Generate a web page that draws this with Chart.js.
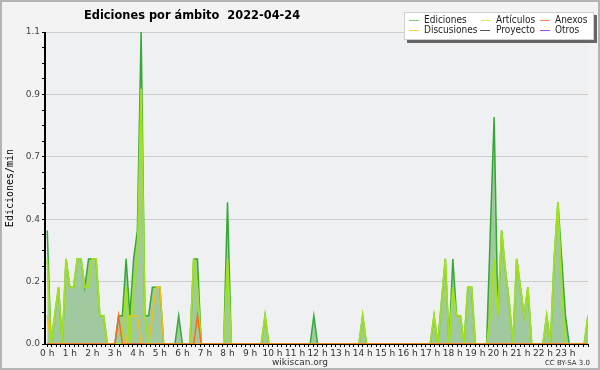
<!DOCTYPE html>
<html>
<head>
<meta charset="utf-8">
<script src="https://cdn.jsdelivr.net/npm/chart.js@4.4.1/dist/chart.umd.min.js"></script>
<style>
  html, body { margin: 0; padding: 0; background: #f3f3f3; }
  canvas { display: block; }
</style>
</head>
<body>
<canvas id="chart" width="600" height="370"></canvas>
<script>
const TITLE = 'Ediciones por ámbito  2022-04-24';
const Y_TITLE = 'Ediciones/min';
const FOOTER = 'wikiscan.org';
const LICENSE = 'CC BY-SA 3.0';

const hourLabels = ['0 h', '1 h', '2 h', '3 h', '4 h', '5 h', '6 h', '7 h', '8 h', '9 h', '10 h', '11 h',
  '12 h', '13 h', '14 h', '15 h', '16 h', '17 h', '18 h', '19 h', '20 h', '21 h', '22 h', '23 h'];
const yTicks = [0, 0.22, 0.44, 0.66, 0.88, 1.1];
const yTickLabels = ['0.0', '0.2', '0.4', '0.7', '0.9', '1.1'];

const binMinutes = 10; // one value every 10 minutes, 0:00 -> 24:00

// one row per hour (6 bins), last value = 24:00
const ediciones = [
  0.4, 0, 0.1, 0.2, 0, 0.3,
  0.2, 0.2, 0.3, 0.3, 0.2, 0.3,
  0.3, 0.3, 0.1, 0.1, 0, 0,
  0, 0.1, 0.1, 0.3, 0.1, 0.3,
  0.4, 1.1, 0.1, 0.1, 0.2, 0.2,
  0.2, 0, 0, 0, 0, 0.1,
  0, 0, 0, 0.3, 0.3, 0,
  0, 0, 0, 0, 0, 0,
  0.5, 0, 0, 0, 0, 0,
  0, 0, 0, 0, 0.1, 0,
  0, 0, 0, 0, 0, 0,
  0, 0, 0, 0, 0, 0.1,
  0, 0, 0, 0, 0, 0,
  0, 0, 0, 0, 0, 0,
  0.1, 0, 0, 0, 0, 0,
  0, 0, 0, 0, 0, 0,
  0, 0, 0, 0, 0, 0,
  0, 0.1, 0, 0.15, 0.3, 0,
  0.3, 0.1, 0.1, 0, 0.2, 0.2,
  0, 0, 0, 0, 0.4, 0.8,
  0.1, 0.4, 0.26, 0.15, 0, 0.3,
  0.2, 0.1, 0.2, 0, 0, 0,
  0, 0.1, 0, 0.3, 0.5, 0.3,
  0.1, 0, 0, 0, 0, 0,
  0.1
];
const articulos = [
  0.3, 0, 0.1, 0.2, 0, 0.3,
  0.2, 0.2, 0.3, 0.3, 0.2, 0.2,
  0.3, 0.3, 0.1, 0.1, 0, 0,
  0, 0, 0, 0.2, 0, 0.2,
  0.3, 0.9, 0.1, 0, 0, 0,
  0, 0, 0, 0, 0, 0,
  0, 0, 0, 0.3, 0.2, 0,
  0, 0, 0, 0, 0, 0,
  0.3, 0, 0, 0, 0, 0,
  0, 0, 0, 0, 0.1, 0,
  0, 0, 0, 0, 0, 0,
  0, 0, 0, 0, 0, 0,
  0, 0, 0, 0, 0, 0,
  0, 0, 0, 0, 0, 0,
  0.1, 0, 0, 0, 0, 0,
  0, 0, 0, 0, 0, 0,
  0, 0, 0, 0, 0, 0,
  0, 0.1, 0, 0.15, 0.3, 0,
  0.2, 0.1, 0.1, 0, 0.2, 0.2,
  0, 0, 0, 0, 0.1, 0.3,
  0.1, 0.4, 0.26, 0.15, 0, 0.3,
  0.2, 0.1, 0.2, 0, 0, 0,
  0, 0.1, 0, 0.3, 0.5, 0.2,
  0, 0, 0, 0, 0, 0,
  0.1
];
const anexos = [
  0, 0, 0, 0, 0, 0,
  0, 0, 0, 0, 0, 0,
  0, 0, 0, 0, 0, 0,
  0, 0.1, 0, 0, 0, 0,
  0, 0, 0, 0, 0, 0,
  0, 0, 0, 0, 0, 0,
  0, 0, 0, 0, 0.1, 0,
  0, 0, 0, 0, 0, 0,
  0, 0, 0, 0, 0, 0,
  0, 0, 0, 0, 0, 0,
  0, 0, 0, 0, 0, 0,
  0, 0, 0, 0, 0, 0,
  0, 0, 0, 0, 0, 0,
  0, 0, 0, 0, 0, 0,
  0, 0, 0, 0, 0, 0,
  0, 0, 0, 0, 0, 0,
  0, 0, 0, 0, 0, 0,
  0, 0, 0, 0, 0, 0,
  0, 0, 0, 0, 0, 0,
  0, 0, 0, 0, 0, 0,
  0, 0, 0, 0, 0, 0,
  0, 0, 0, 0, 0, 0,
  0, 0, 0, 0, 0, 0,
  0, 0, 0, 0, 0, 0,
  0
];
const discusiones = [
  0.1, 0, 0, 0, 0, 0,
  0, 0, 0, 0, 0, 0,
  0, 0, 0, 0, 0, 0,
  0, 0, 0, 0, 0.1, 0.1,
  0.1, 0, 0, 0, 0.1, 0.2,
  0.2, 0, 0, 0, 0, 0,
  0, 0, 0, 0, 0, 0,
  0, 0, 0, 0, 0, 0,
  0, 0, 0, 0, 0, 0,
  0, 0, 0, 0, 0, 0,
  0, 0, 0, 0, 0, 0,
  0, 0, 0, 0, 0, 0,
  0, 0, 0, 0, 0, 0,
  0, 0, 0, 0, 0, 0,
  0, 0, 0, 0, 0, 0,
  0, 0, 0, 0, 0, 0,
  0, 0, 0, 0, 0, 0,
  0, 0, 0, 0, 0, 0,
  0, 0, 0, 0, 0, 0,
  0, 0, 0, 0, 0, 0,
  0, 0, 0, 0, 0, 0,
  0, 0, 0, 0, 0, 0,
  0, 0, 0, 0, 0, 0,
  0, 0, 0, 0, 0, 0,
  0
];
const proyecto = ediciones.map(() => 0);
const otros = ediciones.map(() => 0);

const toPoints = arr => arr.map((v, i) => ({ x: i * binMinutes, y: v }));

const lineDs = (label, data, color, legendColor, order, width) => ({
  label, data: toPoints(data), borderColor: color, legendColor,
  borderWidth: width, pointRadius: 0, tension: 0, fill: false, order
});

// background, plot area, frame, title, legend
const backdrop = {
  id: 'backdrop',
  beforeDraw(chart) {
    const { ctx, chartArea: a } = chart;
    ctx.save();
    ctx.fillStyle = '#f3f3f3';
    ctx.fillRect(0, 0, chart.width, chart.height);
    ctx.fillStyle = '#eef0f2';
    ctx.fillRect(a.left, a.top, a.right - a.left, a.bottom - a.top);
    ctx.restore();
  },
  afterDatasetsDraw(chart) {
    const { ctx, chartArea: a } = chart;
    ctx.save();
    ctx.strokeStyle = '#000';
    ctx.lineWidth = 1;
    ctx.beginPath();
    ctx.moveTo(a.left - 0.5, a.top);
    ctx.lineTo(a.left - 0.5, a.bottom + 0.5);
    ctx.lineTo(a.right, a.bottom + 0.5);
    ctx.stroke();
    ctx.restore();
  },
  afterDraw(chart) {
    const { ctx } = chart;
    ctx.save();
    ctx.strokeStyle = '#b4b4b4';
    ctx.lineWidth = 2;
    ctx.strokeRect(1, 1, chart.width - 2, chart.height - 2);

    ctx.fillStyle = '#000';
    ctx.font = 'bold 11.4px "DejaVu Sans"';
    ctx.textBaseline = 'alphabetic';
    ctx.fillText(TITLE, 84, 19);

    ctx.fillStyle = '#333';
    ctx.font = '9px "DejaVu Sans"';
    ctx.textAlign = 'center';
    ctx.fillText(FOOTER, 300, 365);
    ctx.font = '7px "DejaVu Sans"';
    ctx.textAlign = 'right';
    ctx.fillText(LICENSE, 590, 365);

    ctx.fillStyle = '#666';
    ctx.fillRect(407, 15, 190, 28);
    ctx.fillStyle = '#fff';
    ctx.fillRect(404, 12, 190, 28);
    ctx.strokeStyle = '#d0d0d0';
    ctx.lineWidth = 1;
    ctx.strokeRect(404.5, 12.5, 189, 27);

    const slots = [[409, 424, 20], [481, 496, 20], [540, 555, 20],
                   [409, 424, 30], [480, 496, 30], [540, 555, 30]];
    ctx.font = '10px "DejaVu Sans Condensed", "DejaVu Sans"';
    ctx.textAlign = 'left';
    ctx.textBaseline = 'middle';
    chart.data.datasets.forEach((ds, i) => {
      const [sx, tx, y] = slots[i];
      ctx.strokeStyle = ds.legendColor;
      ctx.lineWidth = 1;
      ctx.beginPath();
      ctx.moveTo(sx, y + 0.5);
      ctx.lineTo(sx + 10, y + 0.5);
      ctx.stroke();
      ctx.fillStyle = '#222';
      ctx.fillText(ds.label, tx, y);
    });
    ctx.restore();
  }
};

new Chart(document.getElementById('chart'), {
  type: 'line',
  data: {
    datasets: [
      {
        label: 'Ediciones', data: toPoints(ediciones), borderColor: '#36a836', legendColor: '#7acb7a',
        backgroundColor: '#a0c9a0', fill: 'origin', borderWidth: 1.5, pointRadius: 0, tension: 0, order: 10
      },
      lineDs('Artículos', articulos, '#a2e21c', '#c8ec5a', 2, 1.8),
      lineDs('Anexos', anexos, '#ff6a1a', '#ff8048', 1, 1.5),
      lineDs('Discusiones', discusiones, '#f6c010', '#ffd040', 3, 1.5),
      lineDs('Proyecto', proyecto, '#555555', '#555555', 5, 1.5),
      lineDs('Otros', otros, '#9a4ef0', '#9a4ef0', 4, 1.5)
    ]
  },
  options: {
    responsive: false,
    animation: false,
    devicePixelRatio: 1,
    layout: { padding: { top: 32, right: 12, left: 0, bottom: 0 } },
    plugins: { legend: { display: false }, tooltip: { enabled: false } },
    scales: {
      x: {
        type: 'linear',
        min: -6,
        max: 1440,
        afterFit: s => { s.height = 26; },
        afterBuildTicks: s => {
          const t = [];
          for (let m = 0; m <= 1440; m += 12) t.push({ value: m });
          s.ticks = t;
        },
        border: { display: true, color: '#000', width: 1 },
        grid: { drawOnChartArea: false, tickLength: 3, tickColor: '#000' },
        ticks: {
          autoSkip: false, maxRotation: 0, minRotation: 0, padding: 1,
          color: '#333', font: { family: 'DejaVu Sans', size: 9 },
          callback: v => (v % 60 === 0 && v < 1440) ? hourLabels[v / 60] : ''
        }
      },
      y: {
        min: 0,
        max: 1.1,
        afterFit: s => { s.width = 45; },
        afterBuildTicks: s => {
          const t = [];
          for (let i = 0; i < yTicks.length; i++) {
            t.push({ value: yTicks[i] });
            if (i < yTicks.length - 1) {
              const step = (yTicks[i + 1] - yTicks[i]) / 4;
              for (let j = 1; j < 4; j++) t.push({ value: yTicks[i] + step * j });
            }
          }
          s.ticks = t;
        },
        border: { display: true, color: '#000', width: 1 },
        grid: {
          tickLength: 3,
          color: c => (c.index % 4 === 0 ? '#cdcdcd' : 'rgba(0,0,0,0)'),
          tickColor: '#000'
        },
        title: {
          display: true, text: Y_TITLE, color: '#000', padding: { top: 4, bottom: 0 },
          font: { family: 'DejaVu Sans Mono', size: 10 }
        },
        ticks: {
          autoSkip: false, padding: 2, color: '#444',
          font: { family: 'DejaVu Sans', size: 9 },
          callback: (v, i) => (i % 4 === 0 ? yTickLabels[i / 4] : '')
        }
      }
    }
  },
  plugins: [backdrop]
});
</script>
</body>
</html>
